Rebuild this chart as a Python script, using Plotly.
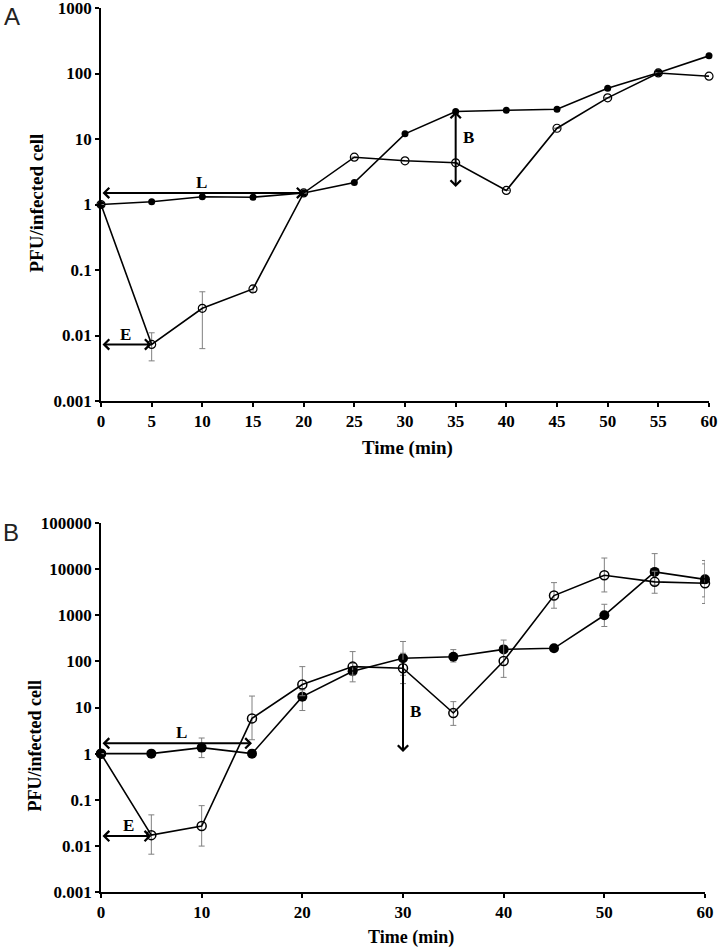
import numpy as np
import plotly.graph_objects as go

# ---------------- data ----------------
time = [0, 5, 10, 15, 20, 25, 30, 35, 40, 45, 50, 55, 60]

a_closed = [1, 1.1, 1.31, 1.29, 1.5, 2.17, 12, 26.3, 27.5, 28.5, 59.7, 103, 186]
a_open = [1, 0.0073, 0.026, 0.0515, 1.5, 5.27, 4.65, 4.33, 1.64, 14.6, 42.5, 102, 91]
a_open_hi = [None, 0.011, 0.0465, 0.058, None, None, None, None, None, None, None, None, None]
a_open_lo = [None, 0.0041, 0.0063, 0.046, None, None, None, None, None, None, None, None, None]

b_closed = [1, 1.0, 1.35, 1.0, 17.2, 61, 117, 126, 182, 192, 1000, 8700, 6000]
b_closed_hi = [None, None, 2.18, 1.2, 24, 90, 270, 180, 220, None, 1730, 21700, 15400]
b_closed_lo = [None, None, 0.82, 0.85, 8.6, 36, 50, 97, 160, None, 570, 4500, 2500]
b_open = [1, 0.0171, 0.027, 5.8, 31.5, 77, 71, 7.6, 102, 2670, 7370, 5300, 4930]
b_open_hi = [None, 0.047, 0.0745, 17.7, 77, 163, 150, 13.4, 290, 5100, 17400, 9000, 13000]
b_open_lo = [None, 0.0066, 0.0099, 2.0, 18, 50, 33, 4.1, 45, 1420, 3200, 3000, 1800]

a_yticks = [0.001, 0.01, 0.1, 1, 10, 100, 1000]
a_yticktext = ["0.001", "0.01", "0.1", "1", "10", "100", "1000"]
b_yticks = [0.001, 0.01, 0.1, 1, 10, 100, 1000, 10000, 100000]
b_yticktext = ["0.001", "0.01", "0.1", "1", "10", "100", "1000", "10000", "100000"]
a_xticks = list(range(0, 61, 5))
b_xticks = list(range(0, 61, 10))


def err(vals, hi, lo):
    plus = [None if h is None else h - v for v, h in zip(vals, hi)]
    minus = [None if l is None else v - l for v, l in zip(vals, lo)]
    return plus, minus


# ---------------- layout geometry (pixels) ----------------
W, H = 720, 948
ML, MR, MT, MB = 101, 11, 8, 56
PW, PH = W - ML - MR, H - MT - MB


def px(xp):
    return (xp - ML) / PW


def py(yp):
    return (H - MB - yp) / PH


SERIF = "Liberation Serif"
SANS = "Liberation Sans"
ERR = dict(color="#808080", thickness=1, width=3)

fig = go.Figure()

# Panel A
fig.add_trace(go.Scatter(x=time, y=a_closed, mode="lines+markers", xaxis="x", yaxis="y",
                         line=dict(color="black", width=1.6),
                         marker=dict(symbol="circle", size=7, color="black"),
                         cliponaxis=False, showlegend=False))
p, m = err(a_open, a_open_hi, a_open_lo)
fig.add_trace(go.Scatter(x=time, y=a_open, mode="lines+markers", xaxis="x", yaxis="y",
                         line=dict(color="black", width=1.6),
                         marker=dict(symbol="circle-open", size=8, color="black", line=dict(width=1.2)),
                         error_y=dict(type="data", array=p, arrayminus=m, symmetric=False, **ERR),
                         cliponaxis=False, showlegend=False))

# Panel B
p, m = err(b_closed, b_closed_hi, b_closed_lo)
fig.add_trace(go.Scatter(x=time, y=b_closed, mode="lines+markers", xaxis="x2", yaxis="y2",
                         line=dict(color="black", width=1.6),
                         marker=dict(symbol="circle", size=10, color="black"),
                         error_y=dict(type="data", array=p, arrayminus=m, symmetric=False, **ERR),
                         cliponaxis=False, showlegend=False))
p, m = err(b_open, b_open_hi, b_open_lo)
fig.add_trace(go.Scatter(x=time, y=b_open, mode="lines+markers", xaxis="x2", yaxis="y2",
                         line=dict(color="black", width=1.6),
                         marker=dict(symbol="circle-open", size=9, color="black", line=dict(width=1.5)),
                         error_y=dict(type="data", array=p, arrayminus=m, symmetric=False, **ERR),
                         cliponaxis=False, showlegend=False))

tickfont = dict(family=SERIF, size=17, color="black", weight="bold")
axcommon = dict(showline=True, linecolor="black", linewidth=1.5, ticks="outside", ticklen=4,
                tickwidth=1.5, tickcolor="black", showgrid=False, zeroline=False,
                tickfont=tickfont, automargin=False, ticklabeloverflow="allow")

fig.update_layout(
    template="none",
    width=W, height=H, margin=dict(l=ML, r=MR, t=MT, b=MB, autoexpand=False),
    paper_bgcolor="white", plot_bgcolor="white",
    xaxis=dict(domain=[0, 1], range=[0, 60], tickvals=a_xticks, anchor="y", **axcommon),
    yaxis=dict(domain=[py(401), 1], type="log", range=[-3, 3], tickvals=a_yticks,
               ticktext=a_yticktext, anchor="x", **axcommon),
    xaxis2=dict(domain=[0, px(705)], range=[0, 60], tickvals=b_xticks, anchor="y2", **axcommon),
    yaxis2=dict(domain=[0, py(523)], type="log", range=[-3, 5], tickvals=b_yticks,
                ticktext=b_yticktext, anchor="x2", **axcommon),
)

lbl = dict(family=SERIF, size=17, color="black", weight="bold")
ann = []


def arrow(xr, yr, x0, y0, x1, y1, both=True):
    ann.append(dict(xref=xr, yref=yr, axref=xr, ayref=yr,
                    x=x1, y=np.log10(y1), ax=x0, ay=np.log10(y0),
                    text="", showarrow=True, arrowhead=4, arrowsize=1, arrowwidth=2,
                    arrowcolor="black", arrowside="end+start" if both else "end",
                    standoff=0, startstandoff=0))


def label(xr, yr, x, y, t):
    ann.append(dict(xref=xr, yref=yr, x=x, y=np.log10(y), text=t, showarrow=False, font=lbl,
                    xanchor="center", yanchor="middle"))


# Panel A annotations
arrow("x", "y", 0, 1.5, 20, 1.5)
label("x", "y", 9.9, 2.2, "L")
arrow("x", "y", 0, 0.0073, 5, 0.0073)
label("x", "y", 2.4, 0.0102, "E")
arrow("x", "y", 35, 1.75, 35, 26.3)
label("x", "y", 36.3, 10.4, "B")

# Panel B annotations
arrow("x2", "y2", 0, 1.67, 15, 1.67)
label("x2", "y2", 8.0, 2.85, "L")
arrow("x2", "y2", 0, 0.0163, 5, 0.0163)
label("x2", "y2", 2.7, 0.027, "E")
arrow("x2", "y2", 30, 117, 30, 1.08, both=False)
label("x2", "y2", 31.2, 8, "B")


def ptext(xp, yp, t, font, angle=0):
    ann.append(dict(xref="paper", yref="paper", x=px(xp), y=py(yp), text=t, textangle=angle,
                    showarrow=False, font=font, xanchor="center", yanchor="middle"))


ptext(36, 203.5, "PFU/infected cell", dict(family=SERIF, size=19, color="black", weight="bold"), -90)
ptext(407, 448, "Time (min)", dict(family=SERIF, size=19, color="black", weight="bold"))
ptext(34, 746.5, "PFU/infected cell", dict(family=SERIF, size=18, color="black", weight="bold"), -90)
ptext(411, 937, "Time (min)", dict(family=SERIF, size=18, color="black", weight="bold"))
ptext(12, 17, "A", dict(family=SANS, size=24, color="#222"))
ptext(11, 532, "B", dict(family=SANS, size=24, color="#222"))

fig.update_layout(annotations=ann)

fig.write_html("out.html", config={"displayModeBar": False},
               post_script="document.body.style.margin='0';document.body.style.overflow='hidden';")
